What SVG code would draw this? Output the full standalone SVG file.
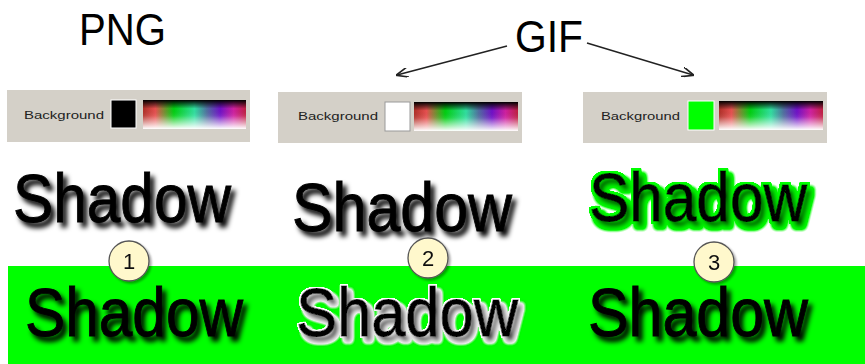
<svg xmlns="http://www.w3.org/2000/svg" width="865" height="364" viewBox="0 0 865 364">
<style>
.t{font-family:"Liberation Sans",Arial,sans-serif;fill:#000}
.big{font-size:44px}
.sh{font-size:68px;stroke:#000;stroke-width:0.9}
.lbl{font-size:11.5px;fill:#222}
.panel{fill:#d4d0c8}
.num{font-family:"Liberation Sans",Arial,sans-serif;font-size:22px;fill:#111;text-anchor:middle}
.circ{fill:#fff8cc;stroke:#555;stroke-width:1.3}
.arr{stroke:#222;stroke-width:1.6;fill:none;marker-end:url(#ah)}
</style>
<defs>
<marker id="ah" viewBox="0 0 12 10" refX="11" refY="5" markerWidth="12" markerHeight="10" markerUnits="userSpaceOnUse" orient="auto">
<path d="M0,0 L12,5 L0,10" fill="none" stroke="#222" stroke-width="1.6"/>
</marker>
<linearGradient id="hue" x1="0" y1="0" x2="1" y2="0">
<stop offset="0" stop-color="#b03028"/>
<stop offset="0.12" stop-color="#e85050"/>
<stop offset="0.3" stop-color="#00d010"/>
<stop offset="0.5" stop-color="#30e0a0"/>
<stop offset="0.62" stop-color="#5070a0"/>
<stop offset="0.75" stop-color="#7010c8"/>
<stop offset="0.88" stop-color="#d020a0"/>
<stop offset="1" stop-color="#c02040"/>
</linearGradient>
<linearGradient id="val" x1="0" y1="0" x2="0" y2="1">
<stop offset="0" stop-color="#000" stop-opacity="1"/>
<stop offset="0.12" stop-color="#000" stop-opacity="0.6"/>
<stop offset="0.3" stop-color="#000" stop-opacity="0"/>
<stop offset="0.55" stop-color="#fff" stop-opacity="0.1"/>
<stop offset="0.8" stop-color="#fff" stop-opacity="0.6"/>
<stop offset="1" stop-color="#fff" stop-opacity="1"/>
</linearGradient>
<filter id="shadow" x="-10%" y="-30%" width="125%" height="170%">
<feGaussianBlur in="SourceAlpha" stdDeviation="2.5"/>
<feOffset dx="4" dy="5" result="b"/>
<feFlood flood-color="#000" flood-opacity="1"/>
<feComposite in2="b" operator="in" result="s"/>
<feMerge><feMergeNode in="s"/><feMergeNode in="SourceGraphic"/></feMerge>
</filter>
<filter id="haloW" x="-10%" y="-30%" width="125%" height="170%">
<feGaussianBlur in="SourceAlpha" stdDeviation="2.5"/>
<feOffset dx="4" dy="5" result="b"/>
<feMerge result="u"><feMergeNode in="b"/><feMergeNode in="SourceAlpha"/></feMerge>
<feComponentTransfer in="u" result="ut"><feFuncA type="linear" slope="4" intercept="-0.3"/></feComponentTransfer>
<feMorphology in="ut" operator="dilate" radius="1" result="d"/>
<feFlood flood-color="#fff"/>
<feComposite in2="d" operator="in" result="h"/>
<feFlood flood-color="#000" flood-opacity="1"/>
<feComposite in2="b" operator="in" result="s"/>
<feMerge><feMergeNode in="h"/><feMergeNode in="s"/><feMergeNode in="SourceGraphic"/></feMerge>
</filter>
<filter id="haloG" x="-10%" y="-30%" width="125%" height="170%">
<feGaussianBlur in="SourceAlpha" stdDeviation="2.5"/>
<feOffset dx="4" dy="5" result="b"/>
<feMerge result="u"><feMergeNode in="b"/><feMergeNode in="SourceAlpha"/></feMerge>
<feComponentTransfer in="u" result="ut"><feFuncA type="linear" slope="4" intercept="-0.2"/></feComponentTransfer>
<feMorphology in="ut" operator="dilate" radius="2" result="d"/>
<feFlood flood-color="#00ff00"/>
<feComposite in2="d" operator="in" result="h"/>
<feFlood flood-color="#000" flood-opacity="1"/>
<feComposite in2="b" operator="in" result="s"/>
<feMerge><feMergeNode in="h"/><feMergeNode in="s"/><feMergeNode in="SourceGraphic"/></feMerge>
</filter>
<filter id="cs" x="-30%" y="-30%" width="170%" height="170%">
<feGaussianBlur in="SourceAlpha" stdDeviation="1.2"/>
<feOffset dx="1.5" dy="1.5" result="b"/>
<feFlood flood-color="#000" flood-opacity="0.35"/>
<feComposite in2="b" operator="in" result="s"/>
<feMerge><feMergeNode in="s"/><feMergeNode in="SourceGraphic"/></feMerge>
</filter>
</defs>
<rect width="865" height="364" fill="#fff"/>
<rect x="8" y="266" width="857" height="98" fill="#00ff00"/>

<g id="png-title"><text class="t big" x="79" y="45" textLength="87" lengthAdjust="spacingAndGlyphs">PNG</text></g>
<g id="gif-title"><text class="t big" x="515" y="52" textLength="68" lengthAdjust="spacingAndGlyphs">GIF</text></g>

<g id="connectors">
<line class="arr" x1="507" y1="46" x2="397" y2="75"/>
<line class="arr" x1="587" y1="43" x2="693" y2="75"/>
</g>

<g id="panel1">
<rect class="panel" x="7" y="90" width="243" height="52"/>
<text class="t lbl" x="24" y="119" textLength="80" lengthAdjust="spacingAndGlyphs">Background</text>
<rect x="111" y="100" width="25" height="28" fill="#000" stroke="#fff" stroke-width="1"/>
<rect x="143" y="100" width="103" height="29" fill="url(#hue)"/>
<rect x="143" y="100" width="103" height="29" fill="url(#val)"/>
</g>
<g id="panel2">
<rect class="panel" x="278" y="92" width="244" height="51"/>
<text class="t lbl" x="298" y="120" textLength="80" lengthAdjust="spacingAndGlyphs">Background</text>
<rect x="385" y="102" width="25" height="29" fill="#fff" stroke="#999" stroke-width="1"/>
<rect x="414" y="102" width="104" height="29" fill="url(#hue)"/>
<rect x="414" y="102" width="104" height="29" fill="url(#val)"/>
</g>
<g id="panel3">
<rect class="panel" x="583" y="92" width="244" height="51"/>
<text class="t lbl" x="601" y="120" textLength="79" lengthAdjust="spacingAndGlyphs">Background</text>
<rect x="688" y="101" width="26" height="29" fill="#00ff00" stroke="#fff" stroke-width="1"/>
<rect x="719" y="101" width="104" height="29" fill="url(#hue)"/>
<rect x="719" y="101" width="104" height="29" fill="url(#val)"/>
</g>

<g id="shadow1-top"><text class="t sh" x="13" y="222" textLength="218" lengthAdjust="spacingAndGlyphs" filter="url(#shadow)">Shadow</text></g>
<g id="shadow2-top"><text class="t sh" x="292" y="231" textLength="220" lengthAdjust="spacingAndGlyphs" filter="url(#shadow)">Shadow</text></g>
<g id="shadow3-top"><text class="t sh" x="589" y="221" textLength="218" lengthAdjust="spacingAndGlyphs" filter="url(#haloG)">Shadow</text></g>
<g id="shadow1-bot"><text class="t sh" x="25" y="336" textLength="218" lengthAdjust="spacingAndGlyphs" filter="url(#shadow)">Shadow</text></g>
<g id="shadow2-bot"><text class="t sh" x="296" y="336" textLength="222" lengthAdjust="spacingAndGlyphs" filter="url(#haloW)">Shadow</text></g>
<g id="shadow3-bot"><text class="t sh" x="588" y="336" textLength="220" lengthAdjust="spacingAndGlyphs" filter="url(#shadow)">Shadow</text></g>

<g id="badge1" filter="url(#cs)"><circle class="circ" cx="129" cy="261" r="20"/><text class="num" x="129" y="269">1</text></g>
<g id="badge2" filter="url(#cs)"><circle class="circ" cx="428" cy="258" r="20"/><text class="num" x="428" y="266">2</text></g>
<g id="badge3" filter="url(#cs)"><circle class="circ" cx="714" cy="262" r="20"/><text class="num" x="714" y="270">3</text></g>
</svg>
